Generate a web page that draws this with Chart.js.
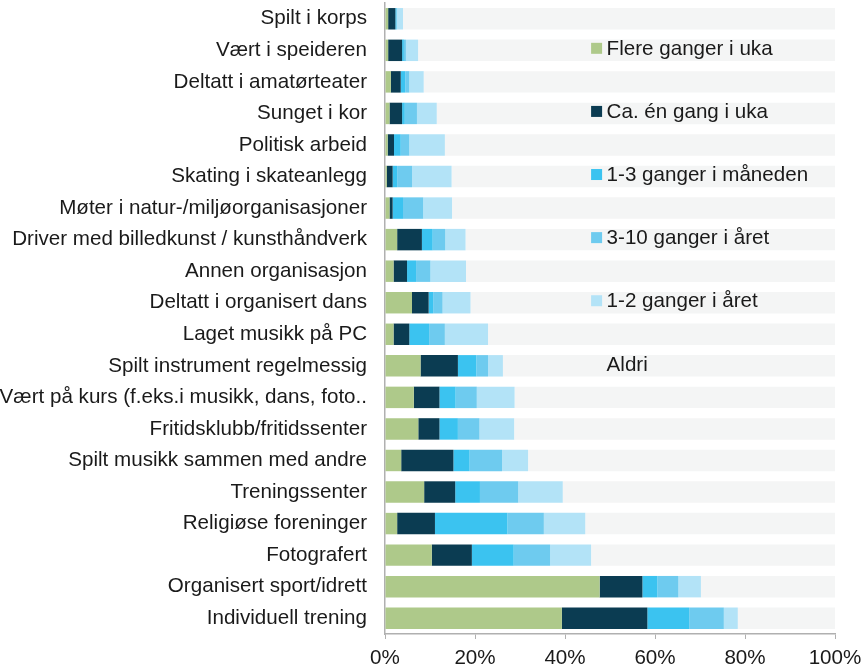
<!DOCTYPE html>
<html>
<head>
<meta charset="utf-8">
<script src="https://cdn.jsdelivr.net/npm/chart.js@4.4.1/dist/chart.umd.min.js"></script>
<style>
  html, body { margin: 0; padding: 0; background: #ffffff; }
  #wrap { width: 865px; height: 672px; position: relative; }
</style>
</head>
<body>
<div id="wrap"><canvas id="c" width="865" height="672"></canvas></div>
<script>
const categories = [
  "Spilt i korps",
  "Vært i speideren",
  "Deltatt i amatørteater",
  "Sunget i kor",
  "Politisk arbeid",
  "Skating i skateanlegg",
  "Møter i natur-/miljøorganisasjoner",
  "Driver med billedkunst / kunsthåndverk",
  "Annen organisasjon",
  "Deltatt i organisert dans",
  "Laget musikk på PC",
  "Spilt instrument regelmessig",
  "Vært på kurs (f.eks.i musikk, dans, foto..",
  "Fritidsklubb/fritidssenter",
  "Spilt musikk sammen med andre",
  "Treningssenter",
  "Religiøse foreninger",
  "Fotografert",
  "Organisert sport/idrett",
  "Individuell trening"
];
const seriesNames = [
  "Flere ganger i uka",
  "Ca. én gang i uka",
  "1-3 ganger i måneden",
  "3-10 ganger i året",
  "1-2 ganger i året",
  "Aldri"
];
const flereGangerIUka = [0.7, 0.7, 1.3, 1.0, 0.6, 0.4, 1.0, 2.7, 1.9, 6.0, 1.9, 7.9, 6.4, 7.4, 3.6, 8.7, 2.7, 10.4, 47.7, 39.3];
const caEnGangIUka    = [1.6, 3.1, 2.2, 2.8, 1.4, 1.3, 0.7, 5.5, 3.0, 3.7, 3.5, 8.3, 5.7, 4.7, 11.6, 6.9, 8.4, 8.9, 9.5, 19.0];
const enTilTreMnd     = [0.2, 0.4, 1.0, 0.6, 1.5, 1.0, 2.3, 2.4, 2.0, 1.0, 4.4, 4.1, 3.6, 4.1, 3.6, 5.5, 16.1, 9.3, 3.3, 9.3];
const treTilTiAar     = [0.2, 0.45, 0.9, 2.7, 1.9, 3.3, 4.5, 2.8, 3.2, 2.1, 3.5, 2.6, 4.7, 4.8, 7.2, 8.5, 8.1, 8.1, 4.7, 7.7];
const enTilToAar      = [1.3, 2.7, 3.2, 4.4, 7.9, 8.8, 6.4, 4.5, 7.9, 6.2, 9.6, 3.3, 8.4, 7.7, 5.8, 9.9, 9.2, 9.1, 5.0, 3.1];
const aldri = categories.map((_, i) =>
  Math.max(0, 100 - flereGangerIUka[i] - caEnGangIUka[i] - enTilTreMnd[i] - treTilTiAar[i] - enTilToAar[i]));
const xTicks = [0, 20, 40, 60, 80, 100];

const colors = ["#aec98a", "#0b3c52", "#3bc3f0", "#6ecbef", "#b3e3f7", "#f4f5f5"];
const seriesValues = [flereGangerIUka, caEnGangIUka, enTilTreMnd, treTilTiAar, enTilToAar, aldri];

const FONT = "'Liberation Sans', Arial, sans-serif";
const FSIZE = 20.6;

const insideLegend = {
  id: 'insideLegend',
  afterDatasetsDraw(chart) {
    const ctx = chart.ctx;
    const y = chart.scales.y;
    const xs = chart.scales.x;
    ctx.save();
    ctx.font = FSIZE + "px " + FONT;
    ctx.textBaseline = 'middle';
    ctx.textAlign = 'left';
    chart.data.datasets.forEach((ds, i) => {
      const cy = y.getPixelForValue(1 + 2 * i) - 2;
      const sx = xs.getPixelForValue(45.8);
      ctx.fillStyle = ds.backgroundColor;
      ctx.fillRect(sx, cy - 5.5, 11, 11);
      ctx.fillStyle = '#1a1a1a';
      ctx.fillText(ds.label, sx + 15.5, cy + 1);
    });
    ctx.restore();
  }
};

new Chart(document.getElementById('c'), {
  type: 'bar',
  data: {
    labels: categories,
    datasets: seriesNames.map((name, i) => ({
      label: name,
      data: seriesValues[i],
      backgroundColor: colors[i],
      borderWidth: 0,
      barPercentage: 1.0,
      categoryPercentage: 0.68
    }))
  },
  options: {
    indexAxis: 'y',
    responsive: false,
    animation: false,
    devicePixelRatio: 1,
    layout: { padding: { top: 3, right: 30, bottom: 0, left: 0 } },
    plugins: {
      legend: { display: false },
      tooltip: { enabled: false }
    },
    scales: {
      x: {
        stacked: true,
        min: 0,
        max: 100,
        afterBuildTicks(scale) { scale.ticks = xTicks.map(v => ({ value: v })); },
        ticks: {
          callback: v => v + '%',
          color: '#1a1a1a',
          font: { family: FONT, size: FSIZE },
          padding: 7,
          maxRotation: 0
        },
        grid: { drawOnChartArea: false, drawTicks: true, tickLength: 5, color: '#b0b0b0' },
        border: { display: true, color: '#b0b0b0', width: 1.5 },
        afterFit(scale) {
          scale.height = 38;
          scale.paddingLeft = 0; scale.paddingRight = 0;
          scale.paddingTop = 0; scale.paddingBottom = 0;
        }
      },
      y: {
        stacked: true,
        ticks: {
          color: '#1a1a1a',
          font: { family: FONT, size: FSIZE },
          padding: 18,
          autoSkip: false
        },
        grid: { display: false, drawTicks: false },
        border: { display: true, color: '#b0b0b0', width: 1.5 },
        afterFit(scale) {
          scale.width = 385;
          scale.paddingTop = 0; scale.paddingBottom = 0;
          scale.paddingLeft = 0; scale.paddingRight = 0;
        }
      }
    }
  },
  plugins: [insideLegend]
});
</script>
</body>
</html>
